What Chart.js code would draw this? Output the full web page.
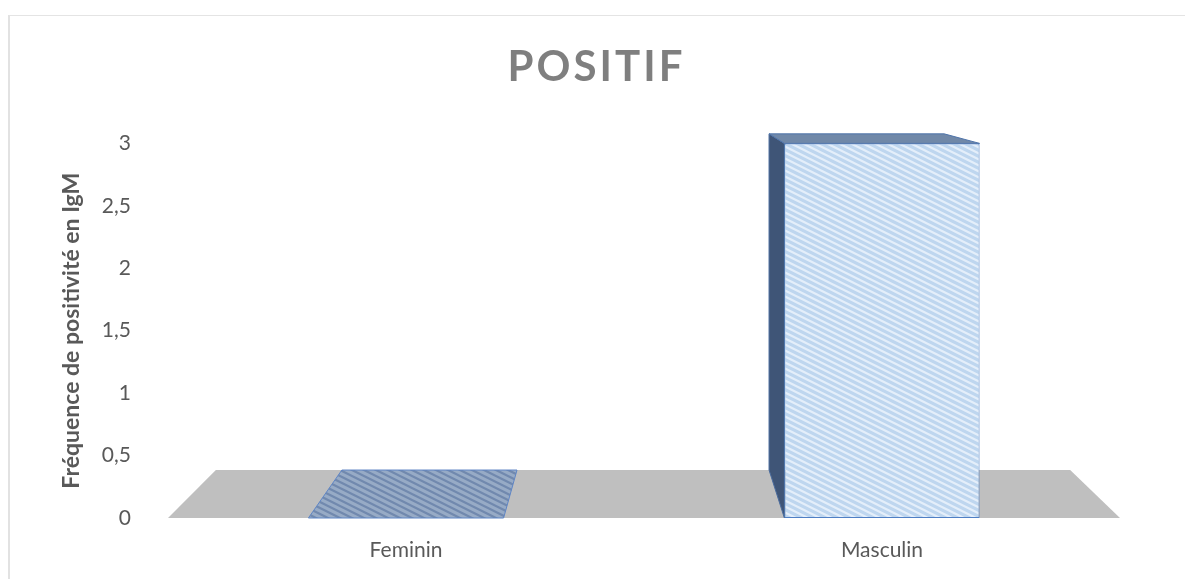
<!DOCTYPE html>
<html>
<head>
<meta charset="utf-8">
<script src="https://cdn.jsdelivr.net/npm/chart.js@4/dist/chart.umd.min.js"></script>
<style>
  html, body { margin: 0; padding: 0; background: #ffffff; }
  #wrap { position: relative; width: 1185px; height: 579px; overflow: hidden; }
  #frame { position: absolute; left: 8px; top: 15px; width: 1200px; height: 600px;
           border-left: 2px solid #e2e2e2; border-top: 1px solid #e4e4e4; }
  #c { position: absolute; left: 0; top: 0; }
</style>
</head>
<body>
<div id="wrap">
  <div id="frame"></div>
  <canvas id="c" width="1185" height="579"></canvas>
</div>
<script>
// Data
const categories = ['Feminin', 'Masculin'];
const positifValues = [0, 3];
const yTickLabels = ['0', '0,5', '1', '1,5', '2', '2,5', '3'];
const chartTitle = 'POSITIF';
const yAxisTitle = 'Fréquence de positivité en IgM';

// Diagonal hatch pattern used for the bar faces
function stripePattern(base, stripe, w, h, lw) {
  const t = document.createElement('canvas');
  t.width = w; t.height = h;
  const g = t.getContext('2d');
  g.fillStyle = base;
  g.fillRect(0, 0, w, h);
  g.strokeStyle = stripe;
  g.lineWidth = lw;
  for (let o = -2; o <= 2; o++) {
    g.beginPath();
    g.moveTo(-w, -h + o * h);
    g.lineTo(2 * w, 2 * h + o * h);
    g.stroke();
  }
  return g.createPattern(t, 'repeat');
}

const ctx = document.getElementById('c').getContext('2d');
const frontFill = stripePattern('#bed6ef', '#e4eefa', 12, 6, 2.2);
const flatFill = stripePattern('#97abc6', '#7189ae', 12, 6, 2.2);

// Simple perspective used for the depth of the floor and the boxes
const persp = { k: 0.1026, vxFrac: 0.49, vyOff: -93 };
function toBack(p, ca) {
  const vx = ca.left + (ca.right - ca.left) * persp.vxFrac;
  const vy = ca.top + persp.vyOff;
  return { x: p.x + (vx - p.x) * persp.k, y: p.y + (vy - p.y) * persp.k };
}
function quad(c, pts, fill, stroke) {
  c.beginPath();
  c.moveTo(pts[0].x, pts[0].y);
  for (let i = 1; i < pts.length; i++) c.lineTo(pts[i].x, pts[i].y);
  c.closePath();
  c.fillStyle = fill;
  c.fill();
  if (stroke) { c.strokeStyle = stroke; c.lineWidth = 1; c.stroke(); }
}

const box3d = {
  id: 'box3d',
  afterInit(chart) {
    // wider letter spacing for the chart title
    const tb = chart.titleBlock;
    if (tb) {
      const orig = tb.draw.bind(tb);
      tb.draw = function (area) {
        const c = chart.ctx;
        c.save();
        if ('letterSpacing' in c) c.letterSpacing = '3px';
        c.translate(4, 0);
        orig(area);
        c.restore();
      };
    }
  },
  beforeDatasetsDraw(chart) {
    const c = chart.ctx;
    const ca = chart.chartArea;
    const xs = chart.scales.x, ys = chart.scales.y;
    const y0 = ys.getPixelForValue(0);
    c.save();
    // floor
    const fl = { x: xs.left, y: y0 }, fr = { x: xs.right, y: y0 };
    quad(c, [fl, fr, toBack(fr, ca), toBack(fl, ca)], '#bfbfbf');
    // depth faces of each bar
    const vx = ca.left + (ca.right - ca.left) * persp.vxFrac;
    chart.getDatasetMeta(0).data.forEach((bar) => {
      const p = bar.getProps(['x', 'y', 'base', 'width'], true);
      const l = p.x - p.width / 2, r = p.x + p.width / 2;
      const top = Math.min(p.y, p.base), bot = Math.max(p.y, p.base);
      const bl = { x: l, y: bot }, br = { x: r, y: bot };
      const tl = { x: l, y: top }, tr = { x: r, y: top };
      if (bot - top < 1) {
        quad(c, [bl, br, toBack(br, ca), toBack(bl, ca)], flatFill, '#5f86c6');
        return;
      }
      if (l > vx) quad(c, [tl, bl, toBack(bl, ca), toBack(tl, ca)], '#3f5577', '#4a6c9e');
      if (r < vx) quad(c, [tr, br, toBack(br, ca), toBack(tr, ca)], '#3f5577', '#4a6c9e');
      quad(c, [tl, tr, toBack(tr, ca), toBack(tl, ca)], '#7088a8', '#4f74aa');
    });
    c.restore();
  }
};

new Chart(ctx, {
  type: 'bar',
  data: {
    labels: categories,
    datasets: [{
      label: chartTitle,
      data: positifValues,
      backgroundColor: frontFill,
      borderColor: '#4f7fc4',
      borderWidth: (c) => (c.raw > 0 ? 1 : 0),
      borderSkipped: false,
      categoryPercentage: 1,
      barPercentage: 0.41
    }]
  },
  options: {
    responsive: false,
    animation: false,
    events: [],
    layout: { padding: 0 },
    plugins: {
      legend: { display: false },
      tooltip: { enabled: false },
      title: {
        display: true,
        text: chartTitle,
        color: '#7f7f7f',
        font: { family: 'Lato', size: 42, weight: 'bold', lineHeight: 1.2 },
        padding: { top: 42, bottom: 51 }
      }
    },
    scales: {
      x: {
        grid: { display: false, drawTicks: false },
        border: { display: false },
        ticks: { color: '#595959', font: { family: 'Lato', size: 21 }, padding: 20 },
        afterFit(s) { s.height = 61; }
      },
      y: {
        min: 0, max: 3,
        grid: { display: false, drawTicks: false },
        border: { display: false },
        ticks: {
          stepSize: 0.5,
          color: '#595959',
          font: { family: 'Lato', size: 21 },
          padding: 37,
          callback: (v, i) => yTickLabels[i]
        },
        title: {
          display: true,
          text: yAxisTitle,
          color: '#595959',
          font: { family: 'Lato', size: 23, weight: 'bold' },
          padding: { top: 58, bottom: 0 }
        },
        afterFit(s) { s.width = 168; }
      },
      // empty margin on the right of the plot
      yRight: {
        position: 'right',
        display: true,
        grid: { display: false, drawTicks: false },
        border: { display: false },
        ticks: { display: false },
        afterFit(s) { s.width = 65; }
      }
    }
  },
  plugins: [box3d]
});
</script>
</body>
</html>
